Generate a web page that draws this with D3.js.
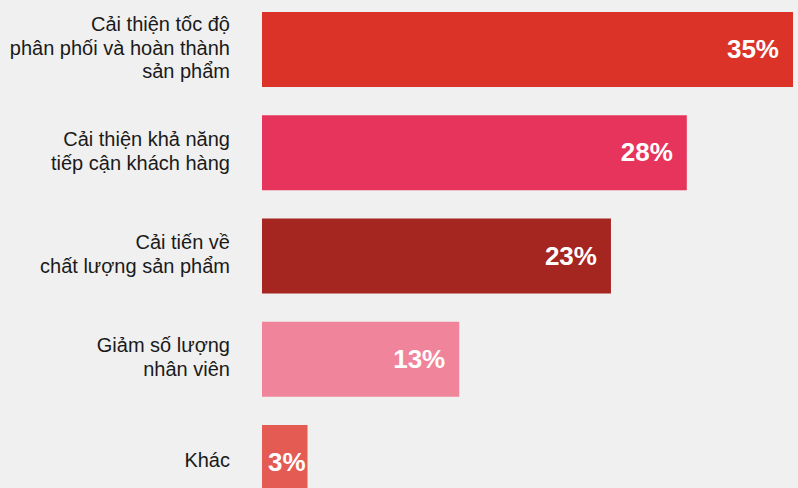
<!DOCTYPE html>
<html>
<head>
<meta charset="utf-8">
<script src="https://cdn.jsdelivr.net/npm/d3@7"></script>
<style>
  html, body { margin: 0; padding: 0; background: #f0f0f0; }
  svg { display: block; }
</style>
</head>
<body>
<div id="chart"></div>
<script>
var categories = [
    ["Cải thiện tốc độ", "phân phối và hoàn thành", "sản phẩm"],
    ["Cải thiện khả năng", "tiếp cận khách hàng"],
    ["Cải tiến về", "chất lượng sản phẩm"],
    ["Giảm số lượng", "nhân viên"],
    ["Khác"]
];
var values = [35, 28, 23, 13, 3];
var colors = ["#dc3328", "#e6345c", "#a52520", "#f0849a", "#e35b52"];

var width = 798;
var height = 488;
var labelRight = 230;
var lineHeight = 23.6;

var svg = d3.select("#chart").append("svg")
    .attr("width", width)
    .attr("height", height)
    .style("background", "#f0f0f0");

var idx = d3.range(values.length);

var x = d3.scaleLinear()
    .domain([0, 35])
    .range([262, 793]);

var y = d3.scaleBand()
    .domain(idx)
    .range([12, 500])
    .paddingInner(0.2736)
    .paddingOuter(0);

// bars
svg.append("g").selectAll("rect")
    .data(idx)
    .enter()
    .append("rect")
    .attr("x", x(0))
    .attr("y", function (i) { return y(i) })
    .attr("width", function (i) { return x(values[i]) - x(0) })
    .attr("height", y.bandwidth())
    .style("fill", function (i) { return colors[i] });

// category labels, multi-line, right aligned
var labels = svg.append("g").selectAll("text")
    .data(idx)
    .enter()
    .append("text")
    .attr("text-anchor", "end")
    .attr("font-family", "Liberation Sans, Arial, sans-serif")
    .attr("font-size", "20px")
    .style("fill", "#1a1a1a");

labels.each(function (i) {
    var lines = categories[i];
    var mid = y(i) + y.bandwidth() / 2;
    var first = mid + 5 - (lines.length - 1) * lineHeight / 2;
    d3.select(this).selectAll("tspan")
        .data(lines)
        .enter()
        .append("tspan")
        .attr("x", labelRight)
        .attr("y", function (d, k) { return first + k * lineHeight })
        .text(function (d) { return d });
});

// value labels inside bars
svg.append("g").selectAll("text")
    .data(idx)
    .enter()
    .append("text")
    .attr("font-family", "Liberation Sans, Arial, sans-serif")
    .attr("font-size", "26px")
    .attr("font-weight", "bold")
    .style("fill", "#ffffff")
    .attr("y", function (i) { return y(i) + y.bandwidth() / 2 })
    .attr("dy", "0.33em")
    .text(function (i) { return values[i] + "%" })
    .each(function (i) {
        var w = this.getComputedTextLength();
        var end = x(values[i]) - 14;
        if (end - w < x(0) + 5) {
            d3.select(this).attr("text-anchor", "start").attr("x", x(0) + 6);
        } else {
            d3.select(this).attr("text-anchor", "end").attr("x", end);
        }
    });
</script>
</body>
</html>
